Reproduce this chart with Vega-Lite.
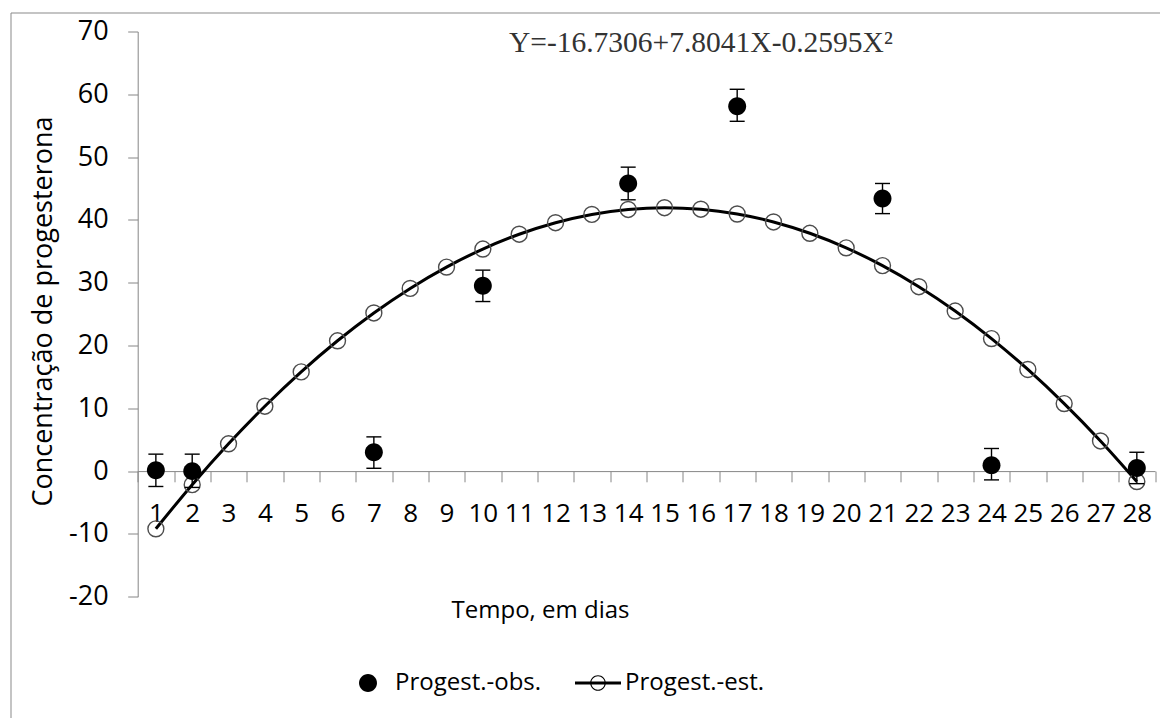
{
  "$schema": "https://vega.github.io/schema/vega-lite/v6.json",
  "autosize": {"type": "none"},
  "padding": {"left": 10.5, "top": 12.5, "right": 0, "bottom": 0},
  "width": 1149.5,
  "height": 705.5,
  "background": "white",
  "config": {
    "view": {"stroke": "#898989", "strokeWidth": 1},
    "font": "Open Sans"
  },
  "datasets": {
    "obs": [
      {"dia": 1, "valor": 0.15, "lo": -2.45, "hi": 2.7, "serie": "Progest.-obs."},
      {"dia": 2, "valor": 0.0, "lo": -2.6, "hi": 2.7, "serie": "Progest.-obs."},
      {"dia": 7, "valor": 3.0, "lo": 0.45, "hi": 5.45, "serie": "Progest.-obs."},
      {"dia": 10, "valor": 29.5, "lo": 27.0, "hi": 32.0, "serie": "Progest.-obs."},
      {"dia": 14, "valor": 45.8, "lo": 43.2, "hi": 48.4, "serie": "Progest.-obs."},
      {"dia": 17, "valor": 58.1, "lo": 55.7, "hi": 60.8, "serie": "Progest.-obs."},
      {"dia": 21, "valor": 43.4, "lo": 41.0, "hi": 45.8, "serie": "Progest.-obs."},
      {"dia": 24, "valor": 0.95, "lo": -1.4, "hi": 3.6, "serie": "Progest.-obs."},
      {"dia": 28, "valor": 0.5, "lo": -2.0, "hi": 3.0, "serie": "Progest.-obs."}
    ],
    "est": [
      {"dia": 1, "valor": -9.19}, {"dia": 2, "valor": -2.16}, {"dia": 3, "valor": 4.35},
      {"dia": 4, "valor": 10.33}, {"dia": 5, "valor": 15.8}, {"dia": 6, "valor": 20.75},
      {"dia": 7, "valor": 25.18}, {"dia": 8, "valor": 29.09}, {"dia": 9, "valor": 32.49},
      {"dia": 10, "valor": 35.36}, {"dia": 11, "valor": 37.72}, {"dia": 12, "valor": 39.55},
      {"dia": 13, "valor": 40.87}, {"dia": 14, "valor": 41.66}, {"dia": 15, "valor": 41.94},
      {"dia": 16, "valor": 41.7}, {"dia": 17, "valor": 40.94}, {"dia": 18, "valor": 39.67},
      {"dia": 19, "valor": 37.87}, {"dia": 20, "valor": 35.55}, {"dia": 21, "valor": 32.72},
      {"dia": 22, "valor": 29.36}, {"dia": 23, "valor": 25.49}, {"dia": 24, "valor": 21.1},
      {"dia": 25, "valor": 16.18}, {"dia": 26, "valor": 10.75}, {"dia": 27, "valor": 4.8},
      {"dia": 28, "valor": -1.66}
    ],
    "equacao": [
      {"dia": 16, "valor": 66.66, "eq": "Y=-16.7306+7.8041X-0.2595X²"}
    ]
  },
  "encoding": {
    "x": {
      "field": "dia",
      "type": "ordinal",
      "scale": {
        "type": "band",
        "domain": [1,2,3,4,5,6,7,8,9,10,11,12,13,14,15,16,17,18,19,20,21,22,23,24,25,26,27,28],
        "paddingInner": 0,
        "paddingOuter": 0,
        "range": [127.2, 1144.5],
        "round": false
      },
      "axis": {
        "orient": "bottom",
        "offset": -246.9,
        "domain": true,
        "domainColor": "#868686",
        "domainWidth": 1,
        "tickBand": "extent",
        "tickSize": 10.7,
        "tickColor": "#868686",
        "tickWidth": 1,
        "labelAngle": 0,
        "labelFont": "Open Sans",
        "labelFontSize": 26,
        "labelColor": "#000000",
        "labelPadding": 19,
        "labelOverlap": false,
        "labelBound": false,
        "labelFlush": false,
        "title": "Tempo, em dias",
        "titleFont": "Open Sans",
        "titleFontSize": 24,
        "titleFontWeight": "normal",
        "titleColor": "#000000",
        "titleX": 529.5,
        "titleY": 146,
        "titleAlign": "center",
        "titleBaseline": "alphabetic"
      }
    },
    "y": {
      "field": "valor",
      "type": "quantitative",
      "scale": {"domain": [-20, 70], "range": [584.2, 19], "nice": false, "zero": false},
      "axis": {
        "orient": "left",
        "offset": -127.2,
        "domain": true,
        "domainColor": "#868686",
        "domainWidth": 1,
        "grid": false,
        "values": [-20, -10, 0, 10, 20, 30, 40, 50, 60, 70],
        "labelExpr": "'' + datum.value",
        "tickSize": 10,
        "tickColor": "#868686",
        "tickWidth": 1,
        "labelFont": "Open Sans",
        "labelFontSize": 27,
        "labelColor": "#000000",
        "labelPadding": 19.5,
        "title": "Concentração de progesterona",
        "titleFont": "Open Sans",
        "titleFontSize": 27,
        "titleFontWeight": "normal",
        "titleColor": "#000000",
        "titleAngle": 270,
        "titleX": -86,
        "titleY": 298.5,
        "titleAlign": "center",
        "titleBaseline": "alphabetic"
      }
    }
  },
  "layer": [
    {
      "data": {"name": "est"},
      "mark": {"type": "line", "color": "#000000", "strokeWidth": 3, "interpolate": "monotone"}
    },
    {
      "data": {"name": "est"},
      "mark": {"type": "point", "shape": "circle", "filled": false, "fill": "transparent", "stroke": "#4d4d4d", "strokeWidth": 1.4, "size": 254, "opacity": 1}
    },
    {
      "data": {"name": "obs"},
      "mark": {"type": "rule", "color": "#000000", "strokeWidth": 1.4},
      "encoding": {
        "y": {"field": "lo", "type": "quantitative", "title": "Concentração de progesterona"},
        "y2": {"field": "hi"}
      }
    },
    {
      "data": {"name": "obs"},
      "mark": {"type": "tick", "orient": "horizontal", "color": "#000000", "size": 15, "thickness": 1.4, "opacity": 1},
      "encoding": {
        "y": {"field": "lo", "type": "quantitative", "title": "Concentração de progesterona"}
      }
    },
    {
      "data": {"name": "obs"},
      "mark": {"type": "tick", "orient": "horizontal", "color": "#000000", "size": 15, "thickness": 1.4, "opacity": 1},
      "encoding": {
        "y": {"field": "hi", "type": "quantitative", "title": "Concentração de progesterona"}
      }
    },
    {
      "data": {"name": "obs"},
      "mark": {"type": "point", "filled": true, "color": "#000000", "size": 2116, "opacity": 1, "strokeWidth": 0},
      "encoding": {
        "shape": {
          "field": "serie",
          "type": "nominal",
          "scale": {
            "domain": ["Progest.-obs.", "Progest.-est."],
            "range": [
              "M-0.39,0A0.39,0.39 0 1,1 0.39,0A0.39,0.39 0 1,1 -0.39,0Z",
              "M-1,-0.065L1,-0.065L1,0.065L-1,0.065Z M-0.34,0A0.34,0.34 0 1,1 0.34,0A0.34,0.34 0 1,1 -0.34,0Z M-0.29,0A0.29,0.29 0 1,0 0.29,0A0.29,0.29 0 1,0 -0.29,0Z"
            ]
          },
          "legend": {
            "title": null,
            "orient": "none",
            "legendX": 334.5,
            "legendY": 647.5,
            "direction": "horizontal",
            "columns": 2,
            "columnPadding": 33,
            "padding": 0,
            "symbolSize": 2116,
            "symbolFillColor": "#000000",
            "symbolStrokeWidth": 0,
            "symbolOpacity": 1,
            "labelFont": "Open Sans",
            "labelFontSize": 24,
            "labelColor": "#000000",
            "labelOffset": 4,
            "labelLimit": 400
          }
        }
      }
    },
    {
      "data": {"name": "equacao"},
      "mark": {"type": "text", "font": "Liberation Serif", "fontSize": 29.5, "color": "#333333", "align": "center", "baseline": "alphabetic"},
      "encoding": {
        "text": {"field": "eq", "type": "nominal"}
      }
    }
  ]
}
